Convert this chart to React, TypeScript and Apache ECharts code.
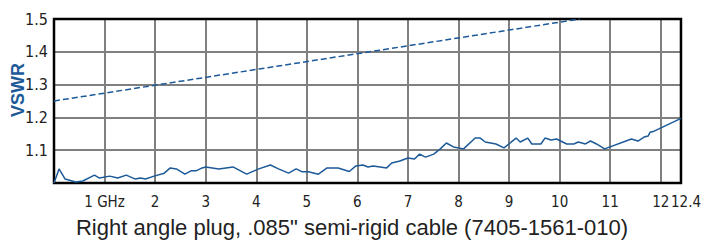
import React, { useEffect, useRef } from "react";
import * as echarts from "echarts";

const measuredFreq = [
  0, 0.1, 0.22, 0.43, 0.57, 0.8, 0.9, 1.1, 1.26, 1.43, 1.61, 1.71, 1.81, 1.98,
  2.18, 2.3, 2.42, 2.59, 2.71, 2.81, 2.93, 3.0, 3.26, 3.54, 3.81, 4.05, 4.28,
  4.44, 4.64, 4.79, 4.91, 5.03, 5.23, 5.4, 5.62, 5.84, 5.97, 6.11, 6.21, 6.31,
  6.45, 6.58, 6.68, 6.84, 7.0, 7.13, 7.23, 7.35, 7.51, 7.64, 7.76, 7.9, 8.1,
  8.33, 8.43, 8.53, 8.74, 8.9, 9.02, 9.14, 9.22, 9.37, 9.45, 9.63, 9.71, 9.83,
  9.94, 10.14, 10.28, 10.37, 10.51, 10.61, 10.73, 10.89, 11.42, 11.55, 11.67,
  11.75, 11.79, 11.87, 12.4,
];
const measuredVswr = [
  1.0, 1.043, 1.012, 1.003, 1.006, 1.024, 1.015, 1.021, 1.015, 1.024, 1.012,
  1.015, 1.012, 1.021, 1.03, 1.046, 1.043, 1.027, 1.037, 1.037, 1.046, 1.049,
  1.043, 1.049, 1.027, 1.043, 1.055, 1.043, 1.03, 1.043, 1.034, 1.034, 1.027,
  1.046, 1.046, 1.035, 1.052, 1.055, 1.049, 1.052, 1.049, 1.046, 1.061, 1.067,
  1.076, 1.073, 1.088, 1.079, 1.088, 1.104, 1.122, 1.11, 1.104, 1.137, 1.137,
  1.125, 1.119, 1.107, 1.122, 1.137, 1.125, 1.137, 1.119, 1.119, 1.137, 1.131,
  1.134, 1.119, 1.119, 1.125, 1.119, 1.128, 1.119, 1.104, 1.134, 1.128, 1.14,
  1.143, 1.155, 1.158, 1.197,
];
const specFreq = [0, 10.4];
const specVswr = [1.25, 1.5];

const xTickValues = [1, 2, 3, 4, 5, 6, 7, 8, 9, 10, 11, 12];
const xTickLabels = ["1 GHz", "2", "3", "4", "5", "6", "7", "8", "9", "10", "11", "12"];
const xMaxValue = 12.4;
const xMaxLabel = "12.4";
const yTickValues = [1.1, 1.2, 1.3, 1.4, 1.5];
const yTickLabels = ["1.1", "1.2", "1.3", "1.4", "1.5"];

const titleText = 'Right angle plug, .085" semi-rigid cable (7405-1561-010)';
const yName = "VSWR";

const lineColor = "#1d5a98";
const condensed = '"Liberation Sans Narrow", "DejaVu Sans Condensed", Arial, sans-serif';

export default function App() {
  const ref = useRef<HTMLDivElement>(null);
  useEffect(() => {
    if (!ref.current) return;
    const chart = echarts.init(ref.current, null, { renderer: "svg" });
    const near = (a: number, b: number) => Math.abs(a - b) < 1e-6;
    const labelStyle = {
      margin: 11,
      fontFamily: condensed,
      fontSize: 15,
      color: "#222",
    };
    chart.setOption({
      animation: false,
      title: {
        text: titleText,
        left: "center",
        top: 216,
        padding: 0,
        textStyle: {
          fontFamily: '"Liberation Sans", Arial, sans-serif',
          fontSize: 22,
          fontWeight: "normal",
          color: "#222",
        },
      },
      graphic: [
        {
          type: "text",
          x: 18,
          y: 90,
          rotation: Math.PI / 2,
          style: {
            text: yName,
            fontFamily: '"Liberation Sans", Arial, sans-serif',
            fontSize: 18,
            fontWeight: "bold",
            fill: lineColor,
            align: "center",
            verticalAlign: "middle",
          },
        },
      ],
      grid: {
        left: 54,
        top: 19,
        right: 19,
        bottom: 58,
        show: true,
        z: 1,
        borderColor: "#000",
        borderWidth: 2.5,
        backgroundColor: "transparent",
      },
      xAxis: [
        {
          type: "value",
          min: 0,
          max: xMaxValue,
          interval: 1,
          axisLine: { show: false },
          axisTick: { show: false },
          splitLine: { show: true, lineStyle: { color: "#808080", width: 2 } },
          axisLabel: {
            ...labelStyle,
            showMinLabel: false,
            showMaxLabel: false,
            formatter: (v: number) => {
              const i = xTickValues.findIndex((t) => near(t, v));
              return i >= 0 ? xTickLabels[i] : "";
            },
          },
        },
        {
          type: "value",
          position: "bottom",
          min: 0,
          max: xMaxValue,
          interval: 1,
          axisLine: { show: false },
          axisTick: { show: false },
          splitLine: { show: false },
          axisLabel: {
            ...labelStyle,
            showMinLabel: false,
            showMaxLabel: true,
            padding: [0, 0, 0, 10],
            formatter: (v: number) => (near(v, xMaxValue) ? xMaxLabel : ""),
          },
        },
      ],
      yAxis: {
        type: "value",
        min: 1,
        max: 1.5,
        interval: 0.1,
        axisLine: { show: false },
        axisTick: { show: false },
        splitLine: { show: true, lineStyle: { color: "#808080", width: 2 } },
        axisLabel: {
          margin: 6,
          fontFamily: condensed,
          fontSize: 16,
          color: "#222",
          formatter: (v: number) => {
            const i = yTickValues.findIndex((t) => near(t, v));
            return i >= 0 ? yTickLabels[i] : "";
          },
        },
      },
      series: [
        {
          type: "line",
          xAxisIndex: 0,
          data: specFreq.map((f, i) => [f, specVswr[i]]),
          symbol: "none",
          z: 3,
          lineStyle: { color: lineColor, width: 1.5, type: [6, 3] },
        },
        {
          type: "line",
          xAxisIndex: 0,
          data: measuredFreq.map((f, i) => [f, measuredVswr[i]]),
          symbol: "none",
          z: 3,
          lineStyle: { color: lineColor, width: 1.5 },
        },
      ],
    });
    return () => chart.dispose();
  }, []);
  return (
    <div
      ref={ref}
      style={{ position: "fixed", left: 0, top: 0, width: 704, height: 241, background: "#fff" }}
    />
  );
}
